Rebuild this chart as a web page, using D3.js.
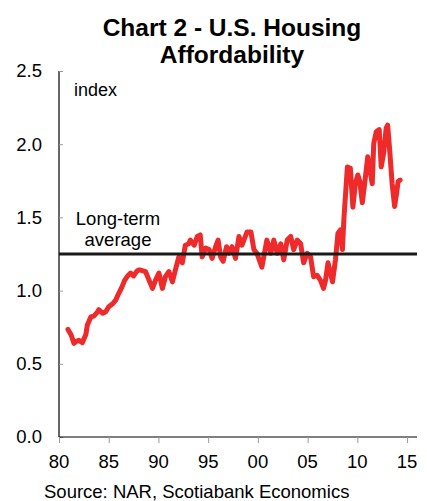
<!DOCTYPE html>
<html>
<head>
<meta charset="utf-8">
<script src="https://cdn.jsdelivr.net/npm/d3@7"></script>
<style>
  html, body { margin: 0; padding: 0; background: #fff; }
  svg { display: block; font-family: Arial, "Liberation Sans", sans-serif; }
</style>
</head>
<body>
<svg id="chart" width="427" height="501"></svg>
<script>
const titleLines = ["Chart 2 - U.S. Housing", "Affordability"];
const unitLabel = "index";
const avgLabelLines = ["Long-term", "average"];
const sourceText = "Source: NAR, Scotiabank Economics";

const xTickYears = [1980, 1985, 1990, 1995, 2000, 2005, 2010, 2015];
const xTickLabels = ["80", "85", "90", "95", "00", "05", "10", "15"];
const yTickValues = [0, 0.5, 1.0, 1.5, 2.0, 2.5];

const longTermAverage = 1.25;

const dates = [
  1980.9, 1981.2, 1981.5, 1981.8, 1982.0, 1982.35, 1982.7, 1982.85, 1983.2, 1983.5,
  1983.9, 1984.0, 1984.4, 1984.7, 1985.0, 1985.4, 1985.7, 1986.0, 1986.3, 1986.6,
  1986.9, 1987.2, 1987.5, 1987.8, 1988.0, 1988.2, 1988.7, 1989.0, 1989.4, 1989.7,
  1990.05, 1990.4, 1990.7, 1991.05, 1991.4, 1991.7, 1992.05, 1992.4, 1992.7, 1993.05,
  1993.2, 1993.6, 1993.9, 1994.2, 1994.4, 1994.75, 1995.1, 1995.4, 1995.75, 1996.0,
  1996.25, 1996.5, 1996.85, 1997.1, 1997.4, 1997.75, 1998.1, 1998.4, 1998.9, 1999.3,
  1999.6, 1999.9, 2000.4, 2000.9, 2001.3, 2001.6, 2001.95, 2002.3, 2002.6, 2002.95,
  2003.3, 2003.6, 2003.95, 2004.3, 2004.6, 2004.95, 2005.3, 2005.6, 2005.95, 2006.3,
  2006.6, 2006.8, 2007.05, 2007.3, 2007.5, 2007.8, 2008.05, 2008.3, 2008.5, 2008.65,
  2009.0, 2009.3, 2009.55, 2009.8, 2010.05, 2010.25, 2010.5, 2010.7, 2011.05, 2011.3,
  2011.5, 2011.65, 2011.9, 2012.2, 2012.4, 2012.65, 2012.9, 2013.05, 2013.25, 2013.5,
  2013.75, 2013.95, 2014.1, 2014.3
];
const values = [
  0.735, 0.70, 0.64, 0.655, 0.66, 0.645, 0.70, 0.765, 0.82, 0.826,
  0.856, 0.87, 0.845, 0.856, 0.89, 0.91, 0.935, 0.98, 1.02, 1.07,
  1.10, 1.12, 1.10, 1.13, 1.14, 1.14, 1.13, 1.08, 1.015, 1.07,
  1.12, 1.015, 1.095, 1.13, 1.06, 1.14, 1.23, 1.19, 1.31, 1.32,
  1.345, 1.31, 1.37, 1.38, 1.23, 1.29, 1.28, 1.22, 1.30, 1.345,
  1.23, 1.20, 1.30, 1.255, 1.30, 1.22, 1.37, 1.31, 1.40, 1.40,
  1.28, 1.255, 1.16, 1.345, 1.255, 1.345, 1.255, 1.32, 1.21, 1.345,
  1.37, 1.28, 1.345, 1.32, 1.19, 1.255, 1.23, 1.095, 1.105, 1.07,
  1.015, 1.07, 1.19, 1.12, 1.06, 1.21, 1.39, 1.415, 1.28, 1.49,
  1.845, 1.835, 1.57, 1.73, 1.79, 1.745, 1.60, 1.71, 1.915, 1.81,
  1.73, 2.005, 2.085, 2.10, 1.845, 1.94, 2.11, 2.13, 1.96, 1.73,
  1.575, 1.665, 1.745, 1.755
];

const svg = d3.select("#chart");

const x = d3.scaleLinear().domain([1980, 2016]).range([59, 417]);
const y = d3.scaleLinear().domain([0, 2.5]).range([437, 71]);

// Title
svg.append("g").selectAll("text").data(titleLines).join("text")
  .attr("x", 232).attr("y", (d, i) => 36 + i * 27)
  .attr("text-anchor", "middle")
  .attr("font-weight", "bold").attr("font-size", 24.5).attr("fill", "#000")
  .text(d => d);

// Y axis
const yAxis = d3.axisRight(y).tickValues(yTickValues).tickSize(4).tickFormat("");
const yg = svg.append("g").attr("transform", "translate(59,0)").call(yAxis);
yg.select(".domain").attr("stroke", "#000").attr("stroke-width", 1.2).attr("d", "M0," + y(2.5) + "V" + y(0));
yg.selectAll(".tick line").attr("stroke", "#999");
svg.append("g").selectAll("text").data(yTickValues).join("text")
  .attr("x", 42).attr("y", d => y(d)).attr("dy", "0.35em")
  .attr("text-anchor", "end").attr("font-size", 18.5).attr("fill", "#000")
  .text(d => d3.format(".1f")(d));

// X axis
const xAxis = d3.axisBottom(x).tickValues(xTickYears).tickSize(6).tickFormat("");
const xg = svg.append("g").attr("transform", "translate(0,437)").call(xAxis);
xg.select(".domain").attr("stroke", "#000").attr("stroke-width", 1.2).attr("d", "M" + x(1980) + ",0H" + x(2016));
xg.selectAll(".tick line").attr("stroke", "#999");
svg.append("g").selectAll("text").data(xTickYears).join("text")
  .attr("x", d => x(d)).attr("y", 468)
  .attr("text-anchor", "middle").attr("font-size", 18.5).attr("fill", "#000")
  .text((d, i) => xTickLabels[i]);

// Series line
const pts = dates.map((d, i) => [d, values[i]]);
const line = d3.line().x(d => x(d[0])).y(d => y(d[1]));
svg.append("path").datum(pts)
  .attr("d", line).attr("fill", "none")
  .attr("stroke", "#ee2a2a").attr("stroke-width", 5)
  .attr("stroke-linejoin", "round").attr("stroke-linecap", "round");

// Long-term average line
svg.append("line")
  .attr("x1", x(1980)).attr("x2", x(2016))
  .attr("y1", y(longTermAverage)).attr("y2", y(longTermAverage))
  .attr("stroke", "#1a1a1a").attr("stroke-width", 3);

// Labels
svg.append("text").attr("x", 74).attr("y", 96)
  .attr("font-size", 18).attr("fill", "#000").text(unitLabel);
svg.append("g").selectAll("text").data(avgLabelLines).join("text")
  .attr("x", 118).attr("y", (d, i) => 225 + i * 21)
  .attr("text-anchor", "middle").attr("font-size", 18.5).attr("fill", "#000")
  .text(d => d);

// Source
svg.append("text").attr("x", 44).attr("y", 498)
  .attr("font-size", 18.5).attr("fill", "#000").text(sourceText);
</script>
</body>
</html>
